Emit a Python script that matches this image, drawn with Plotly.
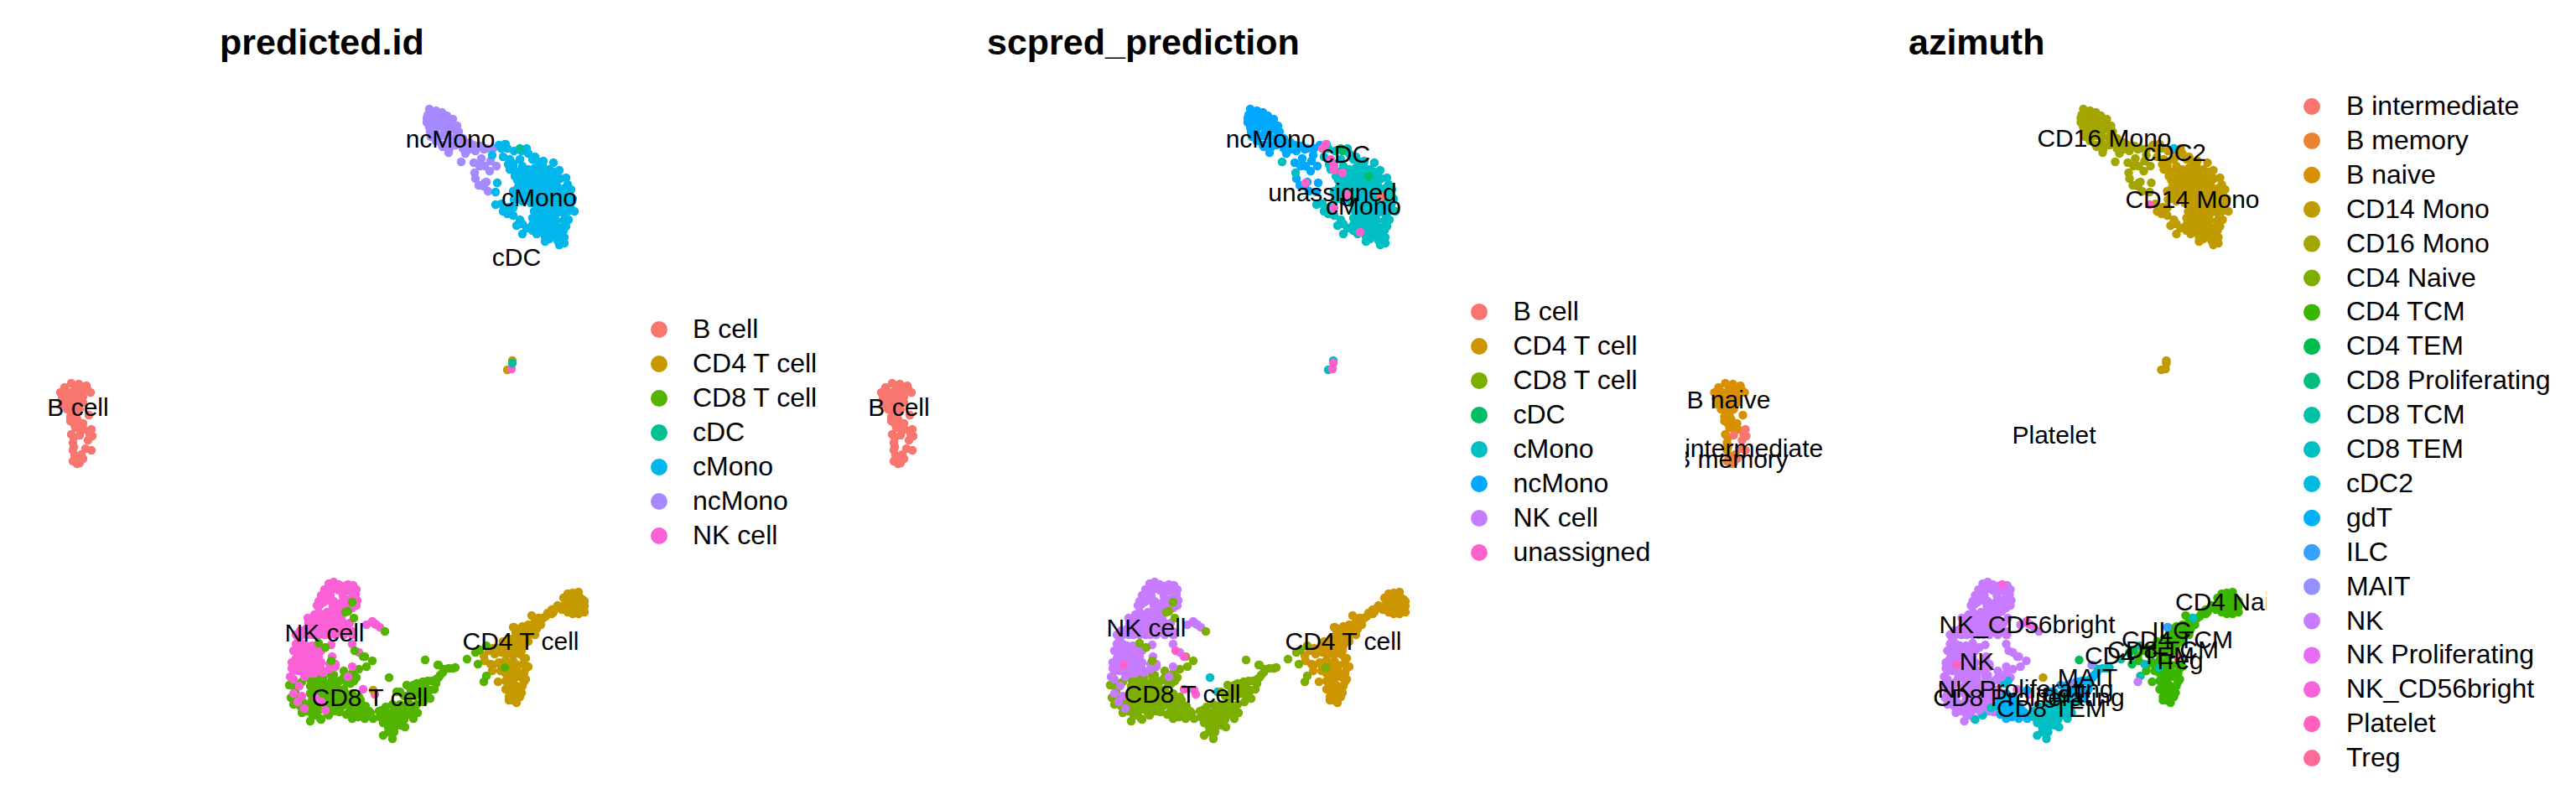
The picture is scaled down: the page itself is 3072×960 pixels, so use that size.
import plotly.graph_objects as go

FONT = "Liberation Sans"

# ---- class names and colours -------------------------------------------------
pred_classes = ["B cell", "CD4 T cell", "CD8 T cell", "cDC", "cMono", "ncMono", "NK cell"]
pred_colors = ["#F8766D", "#C49A00", "#53B400", "#00C094", "#00B6EB", "#A58AFF", "#FB61D7"]
sc_classes = ["B cell", "CD4 T cell", "CD8 T cell", "cDC", "cMono", "ncMono", "NK cell", "unassigned"]
sc_colors = ["#F8766D", "#CD9600", "#7CAE00", "#00BE67", "#00BFC4", "#00A9FF", "#C77CFF", "#FF61CC"]
az_classes = ["B intermediate", "B memory", "B naive", "CD14 Mono", "CD16 Mono", "CD4 Naive", "CD4 TCM",
              "CD4 TEM", "CD8 Proliferating", "CD8 TCM", "CD8 TEM", "cDC2", "gdT", "ILC", "MAIT", "NK",
              "NK Proliferating", "NK_CD56bright", "Platelet", "Treg"]
az_colors = ["#F8766D", "#EA8331", "#D89000", "#C09B00", "#A3A500", "#7CAE00", "#39B600", "#00BB4E", "#00BF7D",
             "#00C1A3", "#00BFC4", "#00BAE0", "#00B0F6", "#35A2FF", "#9590FF", "#C77CFF", "#E76BF3", "#FA62DB",
             "#FF62BC", "#FF6A98"]

# ---- embedding coordinates --------------------------------------------------
b_top_x = [85, 77, 94, 103, 72, 80, 89, 97, 108, 74, 82, 90, 99, 75, 84, 92, 99, 80, 89, 95, 106, 84, 90, 88, 95, 99, 95, 85, 87, 87,
           78, 86, 94, 104, 79, 88, 96, 84, 92, 86, 92, 84, 90, 80, 100, 88, 88]
b_top_y = [457, 462, 458, 460, 468, 467, 465, 465, 468, 475, 473, 473, 473, 482, 482, 482, 480, 488, 490, 488, 495, 497, 495, 505, 505, 505, 510, 518, 528, 537,
           470, 470, 470, 464, 478, 478, 478, 486, 486, 492, 500, 502, 510, 485, 512, 522, 533]
b_int_x = [95, 109, 107, 110, 105, 102, 109, 99]
b_int_y = [519, 512, 518, 520, 525, 535, 537, 547]
b_mem_x = [97, 89, 94, 92, 87, 95]
b_mem_y = [542, 543, 548, 553, 550, 552]

nc_x = [512, 520, 527, 533, 540, 510, 517, 523, 530, 537, 545, 509, 516, 523, 530, 538, 547, 513, 520, 527, 535, 543, 552, 520, 527, 535, 543, 535, 528, 555, 565, 573, 580, 588, 560, 555, 567, 574, 565, 572, 578, 585, 592, 584, 567, 571, 580, 577, 582,
        515, 509, 523, 512, 530, 545, 550, 560, 536, 520, 514, 552, 568, 577]
nc_y = [130, 132, 134, 138, 142, 137, 139, 141, 143, 147, 150, 146, 148, 150, 152, 154, 157, 157, 160, 162, 163, 165, 165, 168, 173, 172, 173, 182, 175, 172, 173, 174, 177, 177, 178, 183, 180, 189, 194, 198, 198, 192, 198, 204, 213, 221, 217, 222, 228,
        133, 141, 146, 152, 157, 160, 172, 170, 177, 153, 163, 177, 176, 178]
nc_teal_x = [550, 566]
nc_teal_y = [193, 206]
nc_pink_x = [578]
nc_pink_y = [218]

cm_x = [603, 600, 605, 613, 628, 630, 606, 612, 635, 643, 660, 613, 614, 623, 630, 638, 647, 655, 667, 623, 632, 640, 648, 657, 662, 675, 623, 632, 640, 648, 657, 663, 677, 672, 618, 627, 635, 643, 652, 660, 612, 620, 628, 637, 645, 653, 662, 670, 678, 683, 613, 623, 633, 643, 653, 663, 673, 680, 685, 598, 607, 600, 605, 612, 620, 616, 623, 623, 637, 645, 653, 662, 677, 635, 643, 652, 660, 678, 635, 643, 652, 660, 675, 635, 645, 653, 662, 672, 673, 650, 658, 665, 667, 650]
cm_y = [172, 187, 177, 180, 177, 183, 196, 195, 190, 193, 194, 203, 210, 198, 202, 200, 198, 202, 203, 208, 210, 208, 208, 210, 212, 212, 217, 218, 217, 217, 218, 220, 220, 225, 223, 225, 225, 225, 225, 227, 228, 232, 233, 233, 233, 233, 233, 232, 232, 237, 238, 240, 242, 242, 242, 242, 243, 245, 252, 243, 247, 252, 255, 257, 262, 269, 267, 279, 252, 250, 250, 250, 252, 260, 258, 258, 258, 262, 268, 267, 267, 267, 270, 275, 275, 275, 275, 275, 283, 282, 282, 287, 292, 288]
cm_fill_x = [618, 627, 635, 644, 652, 660, 618, 627, 636, 644, 652, 660, 668, 622, 631, 639, 647, 655, 664, 681, 616, 624, 632, 640, 649, 657, 665, 674, 618, 628, 638, 648, 658, 668, 678, 640, 650, 660, 670, 682, 640, 648, 656, 664, 672, 638, 647, 655, 663, 672, 628, 640, 648, 656, 664, 670, 640, 650, 658, 666, 655, 668, 673, 617, 608, 620, 638, 648, 650]
cm_fill_y = [205, 205, 205, 205, 205, 205, 213, 213, 213, 213, 213, 213, 213, 221, 221, 221, 221, 221, 221, 226, 229, 229, 229, 229, 229, 229, 229, 229, 237, 237, 237, 237, 237, 237, 237, 246, 246, 246, 246, 240, 254, 254, 254, 254, 254, 263, 263, 263, 263, 263, 272, 271, 271, 271, 271, 271, 279, 279, 279, 279, 285, 285, 290, 215, 202, 190, 187, 192, 279]
cm_left_x = [587, 595]
cm_left_y = [185, 173]
cm_blue_x = [591, 593]
cm_blue_y = [229, 218]
cm_pink_x = [602, 598, 608, 612, 612, 622, 627, 643, 612]
cm_pink_y = [172, 177, 190, 198, 203, 206, 232, 277, 248]
cm_cdc_x = [622, 653]
cm_cdc_y = [180, 210]
cm_cdc2_x = [620]
cm_cdc2_y = [177]
cm_bcell_x = [668]
cm_bcell_y = [234]
cm_plt_x = [591]
cm_plt_y = [244]

plt_a_x = [611, 605]
plt_a_y = [430, 441]
plt_b_x = [610]
plt_b_y = [440]
plt_c_x = [611]
plt_c_y = [433]

nk_top_x = [392, 398, 404, 410, 421, 425, 387, 393, 399, 404, 412, 418, 424, 383, 388, 394, 409, 420, 426, 380, 386, 392, 398, 378, 382, 397, 402, 408, 414, 420, 425, 403, 409, 415, 420]
nk_top_y = [696, 694, 697, 699, 698, 703, 703, 703, 702, 704, 705, 704, 709, 710, 711, 710, 711, 711, 716, 717, 718, 716, 717, 722, 721, 723, 720, 718, 716, 718, 722, 726, 725, 723, 725]
nk_plt_x = [415]
nk_plt_y = [697]
nk_mid_x = [380, 390, 367, 373, 380, 387, 393, 400, 407, 368, 375, 382, 389, 396, 403, 410, 417, 372, 379, 386, 393, 400, 407, 414, 421, 353, 360, 367, 373, 380, 387, 393, 400, 410, 420,
            375, 384, 396, 404, 365, 372, 412, 420, 358, 366, 376, 384, 396, 405, 414]
nk_mid_y = [730, 730, 737, 737, 737, 737, 737, 737, 737, 743, 743, 743, 743, 743, 743, 743, 743, 750, 750, 750, 750, 750, 750, 748, 757, 757, 757, 757, 757, 757, 757, 757, 757, 757, 757,
            733, 733, 732, 731, 750, 752, 752, 753, 752, 755, 754, 753, 754, 753, 754]
nk_arm_x = [437, 444, 449, 453]
nk_arm_y = [745, 741, 745, 748]
nk_bright_x = [447, 444]
nk_bright_y = [744, 742]
nk_low_x = [353, 360, 395, 420, 428, 350, 357, 363, 370, 377, 383, 396, 353, 360, 367, 373, 380, 360, 367, 373, 380, 393, 400, 348, 346, 350, 367, 373, 383, 420, 400, 370, 363, 415,
            355, 365, 375, 357, 365, 377, 383, 355, 365, 372, 352, 350, 356, 364, 375, 385, 393, 356, 348]
nk_low_y = [768, 768, 769, 768, 778, 776, 776, 776, 776, 776, 776, 783, 785, 785, 785, 785, 783, 792, 792, 792, 792, 792, 792, 797, 807, 800, 798, 798, 798, 795, 795, 803, 807, 807,
            780, 780, 780, 790, 788, 788, 790, 772, 770, 770, 792, 810, 800, 800, 803, 802, 798, 762, 790]
nk_pink_x = [361]
nk_pink_y = [793]
nk_cd8_x = [380, 388, 395, 415, 422, 459, 412, 420]
nk_cd8_y = [767, 772, 788, 729, 737, 753, 730, 718]
mix_un_x = [433, 423]
mix_un_y = [783, 776]

low_left_x = [345, 352, 360, 347, 350]
low_left_y = [817, 815, 813, 832, 840]
low_pink_x = [350, 357, 355, 363, 360]
low_pink_y = [827, 818, 837, 845, 830]
low_pink2_x = [377, 383, 388]
low_pink2_y = [833, 837, 847]
cd8_nk_x = [370, 377, 385, 395, 398, 370, 380, 390, 400, 410, 420, 370, 378, 387, 395, 403, 412, 372, 380, 388, 397, 405, 358, 367, 375, 383, 392, 400, 367, 373, 395, 370, 373, 382, 410, 422, 428, 437, 444, 435,
            375, 385, 395, 405, 415, 425, 375, 384, 393, 402, 410, 378, 388, 396, 404, 412, 362, 352, 380, 400, 405, 414, 352, 360, 376, 390, 404]
cd8_nk_y = [810, 807, 808, 805, 805, 818, 818, 818, 818, 808, 803, 827, 827, 827, 827, 827, 827, 835, 835, 835, 835, 835, 842, 842, 842, 842, 842, 842, 848, 848, 848, 860, 853, 857, 800, 812, 798, 795, 788, 783,
            813, 813, 812, 812, 812, 808, 822, 822, 822, 822, 822, 831, 831, 831, 831, 831, 838, 824, 847, 848, 849, 814, 833, 850, 853, 850, 822]
cd8_gd_x = [413, 422, 408, 417, 425, 433, 417, 425, 432, 440, 420, 427, 435, 445, 442, 430, 420, 413, 423, 435, 428, 436]
cd8_gd_y = [835, 835, 842, 842, 842, 842, 848, 848, 848, 848, 857, 855, 857, 857, 850, 835, 827, 852, 852, 852, 831, 842]
cd8_bp_x = [433, 447, 445]
cd8_bp_y = [822, 828, 823]
cd8_teal_x = [392, 383, 402, 418]
cd8_teal_y = [853, 858, 844, 815]
cd8_cd_x = [422]
cd8_cd_y = [812]
stray_x = [464]
stray_y = [808]
stray2_x = [473]
stray2_y = [825]

arm_gd_x = [525, 520, 515, 510, 518, 513, 507, 500, 493, 485, 477, 490, 500, 507, 513, 523, 500, 510, 504, 520, 528, 523, 495, 505, 482, 488]
arm_gd_y = [805, 810, 812, 812, 822, 823, 818, 818, 817, 817, 825, 823, 827, 830, 833, 793, 822, 825, 813, 815, 802, 808, 830, 826, 830, 829]
arm_teal_x = [543, 535, 530, 540]
arm_teal_y = [796, 797, 798, 797]
arm_mait_x = [497]
arm_mait_y = [815]
lump_x = [505, 497, 487, 477, 468, 460, 455, 453, 458, 467, 473, 482, 490, 498, 493, 482, 477, 467, 457, 463, 470, 478, 483, 470, 463, 457, 468, 472, 488, 474, 460, 452, 482, 492]
lump_y = [837, 840, 837, 840, 840, 843, 847, 855, 850, 850, 847, 848, 848, 850, 857, 858, 853, 860, 862, 867, 868, 865, 867, 873, 873, 877, 881, 855, 852, 862, 856, 848, 843, 844]
tem_x = [507]
tem_y = [787]
mait_x = [522]
mait_y = [793]

cd4_x = [690, 683, 677, 672, 678, 685, 692, 697, 697, 697, 690, 683, 677, 670, 665, 673, 680, 688, 692, 683, 675, 658, 653, 663, 658, 634, 648, 642, 637, 645, 630, 623, 613, 617, 640, 632, 623, 617, 608, 630, 625, 618, 623, 613, 605, 597, 588, 577, 578, 588, 587, 595, 603, 612, 617, 610, 597, 594, 603, 612, 620, 627, 630, 627, 617, 625, 627, 623, 603, 612, 603, 612, 618, 612, 607, 612,
         680, 687, 695, 683, 675, 668, 689, 695, 604, 612, 620, 598, 606, 614, 622, 608, 616, 624, 598, 606, 614, 622, 606, 616, 625, 608, 618, 622, 612, 620, 607, 616, 615, 622, 630, 637, 644, 630, 638, 600, 610, 620, 590, 583, 600, 608, 660, 651]
cd4_y = [706, 707, 708, 713, 715, 714, 713, 717, 723, 730, 732, 732, 730, 727, 722, 722, 723, 723, 718, 718, 718, 727, 731, 725, 732, 734, 737, 737, 743, 745, 745, 747, 748, 750, 750, 752, 755, 758, 762, 758, 763, 767, 770, 770, 772, 772, 773, 782, 788, 793, 800, 790, 787, 788, 793, 797, 800, 813, 803, 805, 803, 797, 795, 785, 778, 803, 810, 818, 812, 813, 822, 822, 825, 830, 835, 835,
         712, 710, 725, 727, 726, 724, 728, 715, 780, 780, 780, 778, 778, 776, 776, 798, 798, 792, 795, 808, 808, 808, 818, 818, 813, 828, 820, 826, 826, 831, 831, 838, 755, 752, 750, 748, 741, 765, 757, 765, 763, 761, 780, 776, 800, 792, 730, 735]
cd4_teal_x = [643, 585]
cd4_teal_y = [737, 792]
cd4_ilc_x = [612]
cd4_ilc_y = [748]
cd4_treg_x = [625]
cd4_treg_y = [785]
cd4_green_x = [567, 572, 570]
cd4_green_y = [778, 775, 792]
cd4_gteal_x = [580, 557, 580, 602]
cd4_gteal_y = [770, 786, 806, 796]
cd4_gpurple_x = [577]
cd4_gpurple_y = [813]

# x, y, predicted.id class, scpred class, azimuth class
groups = [
    (b_top_x, b_top_y, "B cell", "B cell", "B naive"),
    (b_int_x, b_int_y, "B cell", "B cell", "B intermediate"),
    (b_mem_x, b_mem_y, "B cell", "B cell", "B memory"),
    (nc_x, nc_y, "ncMono", "ncMono", "CD16 Mono"),
    (nc_teal_x, nc_teal_y, "ncMono", "cMono", "CD16 Mono"),
    (nc_pink_x, nc_pink_y, "ncMono", "unassigned", "CD16 Mono"),
    (cm_x, cm_y, "cMono", "cMono", "CD14 Mono"),
    (cm_fill_x, cm_fill_y, "cMono", "cMono", "CD14 Mono"),
    (cm_left_x, cm_left_y, "cMono", "ncMono", "CD16 Mono"),
    (cm_blue_x, cm_blue_y, "cMono", "ncMono", "CD16 Mono"),
    (cm_pink_x, cm_pink_y, "cMono", "unassigned", "CD14 Mono"),
    (cm_cdc_x, cm_cdc_y, "cMono", "cDC", "CD14 Mono"),
    (cm_cdc2_x, cm_cdc2_y, "cDC", "cDC", "cDC2"),
    (cm_bcell_x, cm_bcell_y, "cMono", "B cell", "CD14 Mono"),
    (cm_plt_x, cm_plt_y, "cMono", "cMono", "Platelet"),
    (plt_a_x, plt_a_y, "CD4 T cell", "cMono", "CD14 Mono"),
    (plt_b_x, plt_b_y, "NK cell", "unassigned", "CD14 Mono"),
    (plt_c_x, plt_c_y, "cDC", "unassigned", "CD14 Mono"),
    (low_left_x, low_left_y, "CD8 T cell", "CD8 T cell", "NK"),
    (cd8_nk_x, cd8_nk_y, "CD8 T cell", "CD8 T cell", "NK"),
    (cd8_gd_x, cd8_gd_y, "CD8 T cell", "CD8 T cell", "gdT"),
    (cd8_teal_x, cd8_teal_y, "CD8 T cell", "CD8 T cell", "CD8 TEM"),
    (cd8_cd_x, cd8_cd_y, "CD8 T cell", "CD8 T cell", "cDC2"),
    (cd8_bp_x[:2], cd8_bp_y[:2], "NK cell", "unassigned", "NK Proliferating"),
    (cd8_bp_x[2:], cd8_bp_y[2:], "CD4 T cell", "unassigned", "gdT"),
    (stray_x, stray_y, "CD8 T cell", "cMono", "CD14 Mono"),
    (stray2_x, stray2_y, "CD8 T cell", "cMono", "gdT"),
    (arm_gd_x, arm_gd_y, "CD8 T cell", "CD8 T cell", "gdT"),
    (arm_teal_x, arm_teal_y, "CD8 T cell", "CD8 T cell", "CD8 TEM"),
    (arm_mait_x, arm_mait_y, "CD8 T cell", "CD8 T cell", "MAIT"),
    (lump_x, lump_y, "CD8 T cell", "CD8 T cell", "CD8 TEM"),
    (tem_x, tem_y, "CD8 T cell", "CD8 T cell", "CD4 TEM"),
    (mait_x, mait_y, "CD8 T cell", "CD8 T cell", "MAIT"),
    (cd4_x, cd4_y, "CD4 T cell", "CD4 T cell", "CD4 TCM"),
    (cd4_teal_x, cd4_teal_y, "CD4 T cell", "CD4 T cell", "CD8 TEM"),
    (cd4_ilc_x, cd4_ilc_y, "CD4 T cell", "CD4 T cell", "ILC"),
    (cd4_treg_x, cd4_treg_y, "CD4 T cell", "CD4 T cell", "Treg"),
    (cd4_green_x, cd4_green_y, "CD8 T cell", "CD8 T cell", "CD4 TEM"),
    (cd4_gteal_x, cd4_gteal_y, "CD8 T cell", "CD8 T cell", "CD8 TCM"),
    (cd4_gpurple_x, cd4_gpurple_y, "CD8 T cell", "CD8 T cell", "NK"),
    (nk_top_x, nk_top_y, "NK cell", "NK cell", "NK"),
    (nk_plt_x, nk_plt_y, "NK cell", "NK cell", "NK_CD56bright"),
    (nk_mid_x, nk_mid_y, "NK cell", "NK cell", "NK"),
    (nk_arm_x, nk_arm_y, "NK cell", "NK cell", "NK"),
    (nk_bright_x, nk_bright_y, "NK cell", "NK cell", "NK_CD56bright"),
    (nk_low_x, nk_low_y, "NK cell", "NK cell", "NK"),
    (nk_pink_x, nk_pink_y, "NK cell", "unassigned", "Platelet"),
    (low_pink_x, low_pink_y, "NK cell", "NK cell", "NK"),
    (low_pink2_x, low_pink2_y, "NK cell", "CD8 T cell", "NK"),
    (nk_cd8_x, nk_cd8_y, "CD8 T cell", "CD8 T cell", "NK"),
    (mix_un_x, mix_un_y, "CD8 T cell", "unassigned", "NK"),
]

# ---- cluster labels ------------------------------------------------------------
pred_lab = ["ncMono", "cMono", "cDC", "B cell", "NK cell", "CD8 T cell", "CD4 T cell"]
pred_lab_x = [537, 643, 616, 93, 387, 441, 621]
pred_lab_y = [168, 238, 309, 488, 757, 834, 767]
sc_lab = ["ncMono", "cDC", "unassigned", "cMono", "B cell", "NK cell", "CD8 T cell", "CD4 T cell"]
sc_lab_x = [536, 626, 610, 647, 93, 388, 431, 623]
sc_lab_y = [168, 186, 232, 248, 488, 751, 830, 767]
az_lab = ["CD16 Mono", "cDC2", "CD14 Mono", "B naive", "B intermediate", "B memory", "Platelet", "CD4 Naive",
          "NK_CD56bright", "NK", "ILC", "CD4 TCM", "CD8 TCM", "CD4 TEM", "Treg", "MAIT", "NK Proliferating",
          "CD8 Proliferating", "gdT", "CD8 TEM"]
az_lab_x = [537, 621, 642, 89, 105, 92, 477, 694, 445, 385, 617, 624, 607, 579, 625, 517, 443, 447, 490, 474]
az_lab_y = [167, 184, 240, 479, 537, 550, 521, 720, 747, 791, 754, 765, 777, 784, 790, 810, 824, 834, 830, 847]

panels = [
    dict(title="predicted.id", classes=pred_classes, colors=pred_colors, col=2, lab=pred_lab, lx=pred_lab_x, ly=pred_lab_y,
         left=37.5, dot=786, text=826, row0=393, pitch=41),
    dict(title="scpred_prediction", classes=sc_classes, colors=sc_colors, col=3, lab=sc_lab, lx=sc_lab_x, ly=sc_lab_y,
         left=1016.5, dot=1764, text=1804.5, row0=372, pitch=41),
    dict(title="azimuth", classes=az_classes, colors=az_colors, col=4, lab=az_lab, lx=az_lab_x, ly=az_lab_y,
         left=2010, dot=2757, text=2798, row0=127, pitch=40.9),
]
LEGEND_TEXT_DY = 2

W, H = 3072, 960
X0, X1 = 37.5, 730.5
Y_TOP, Y_BOT = 88, 922
PW = X1 - X0

fig = go.Figure()
layout = dict(width=W, height=H, margin=dict(l=0, r=0, t=0, b=0, pad=0), autosize=False,
              paper_bgcolor="white", plot_bgcolor="rgba(0,0,0,0)", showlegend=False,
              font=dict(family=FONT, color="black"), hovermode=False)
annotations = []

for i, p in enumerate(panels):
    xa = "x" if i == 0 else f"x{i+1}"
    ya = "y" if i == 0 else f"y{i+1}"
    suffix = "" if i == 0 else str(i + 1)
    xs, ys, cs = [], [], []
    cmap = dict(zip(p["classes"], p["colors"]))
    for g in groups:
        xs += list(g[0])
        ys += list(g[1])
        cs += [cmap[g[p["col"]]]] * len(g[0])
    fig.add_trace(go.Scatter(x=xs, y=ys, mode="markers", xaxis=xa, yaxis=ya, cliponaxis=True,
                             marker=dict(size=10.5, color=cs, line=dict(width=0))))
    fig.add_trace(go.Scatter(x=p["lx"], y=p["ly"], text=p["lab"], mode="text", xaxis=xa, yaxis=ya, cliponaxis=True,
                             textposition="middle center", textfont=dict(size=30, family=FONT, color="black")))
    layout["xaxis" + suffix] = dict(domain=[p["left"] / W, (p["left"] + PW) / W], range=[X0, X1], visible=False,
                                    fixedrange=True)
    layout["yaxis" + suffix] = dict(domain=[(H - Y_BOT) / H, (H - Y_TOP) / H], range=[Y_BOT, Y_TOP], visible=False,
                                    fixedrange=True)
    annotations.append(dict(text=f"<b>{p['title']}</b>", xref="paper", yref="paper",
                            x=(p["left"] + PW / 2) / W, y=(H - 50) / H, xanchor="center", yanchor="middle",
                            showarrow=False, font=dict(size=43, family=FONT, color="black")))

# legend panels on a full-figure overlay axis
layout["xaxis4"] = dict(domain=[0, 1], range=[0, W], visible=False, fixedrange=True)
layout["yaxis4"] = dict(domain=[0, 1], range=[H, 0], visible=False, fixedrange=True)
for p in panels:
    rows = [p["row0"] + p["pitch"] * k for k in range(len(p["classes"]))]
    fig.add_trace(go.Scatter(x=[p["dot"]] * len(rows), y=rows, mode="markers", xaxis="x4", yaxis="y4",
                             marker=dict(size=20, color=p["colors"], line=dict(width=0))))
    fig.add_trace(go.Scatter(x=[p["text"]] * len(rows), y=[r + LEGEND_TEXT_DY for r in rows], text=p["classes"],
                             mode="text", xaxis="x4", yaxis="y4",
                             textposition="middle right", textfont=dict(size=32, family=FONT, color="black")))

layout["annotations"] = annotations
fig.update_layout(**layout)
fig.write_html("out.html", config={"displayModeBar": False},
               post_script="document.body.style.margin='0';document.body.style.overflow='hidden';")
